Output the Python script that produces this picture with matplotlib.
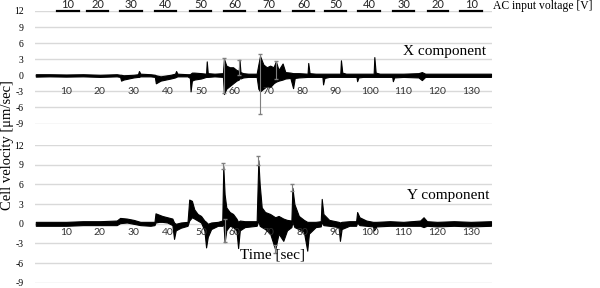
import matplotlib
matplotlib.use("Agg")
import matplotlib.pyplot as plt

# time axis labels and voltage steps
time_ticks = [10, 20, 30, 40, 50, 60, 70, 80, 90, 100, 110, 120, 130]
volt_labels = [10, 20, 30, 40, 50, 60, 70, 60, 50, 40, 30, 20, 10]
volt_start = [7.3, 16.2, 26.0, 36.4, 46.7, 56.8, 67.2, 77.3, 86.8, 96.6, 106.9, 117.3, 126.9]
volt_end = [13.8, 22.4, 32.5, 42.6, 52.9, 63.1, 73.3, 83.5, 92.9, 103.0, 113.3, 123.3, 133.3]

# X component: envelope of the trace (time, lower, upper)
x_t = [1, 5, 10, 15, 20, 25, 26, 26.3, 27, 30, 31.3, 31.6, 32, 35, 36.3, 36.6, 38, 41,
       42.3, 42.6, 43, 46, 46.7, 46.9, 47.3, 48, 50, 51.5, 51.7, 52, 54, 56.5, 56.8,
       57.5, 58.5, 59.5, 60.5, 61.2, 61.4, 61.7, 62.5, 64, 66.5, 67.0, 67.5, 68.5,
       69.5, 70.5, 71.5, 72.2, 73, 74.2, 75, 76.5, 77.3, 77.8, 79, 81.6, 81.8, 82.2,
       84, 86.0, 86.2, 86.6, 88, 91.3, 91.5, 91.9, 93, 96.1, 96.3, 96.7, 98, 101.2,
       101.4, 101.8, 103, 106.7, 106.9, 107.3, 110, 114.5, 115.5, 116.5, 120, 125,
       130, 136]
x_lo = [-0.25, -0.2, -0.25, -0.2, -0.3, -0.2, -0.3, -1.0, -0.8, -0.4, -0.3, -0.3, -0.2,
        -0.2, -0.3, -1.5, -1.0, -0.6, -0.4, -0.3, -0.2, -0.2, -0.5, -3.0, -1.0, -0.8,
        -0.6, -0.3, -0.3, -0.3, -0.2, -0.3, -3.5, -2.5, -2.0, -1.5, -1.0, -0.8, -0.5,
        -0.6, -0.4, -0.3, -0.3, -2.5, -3.0, -2.5, -2.0, -2.2, -1.5, -1.2, -1.0, -0.8,
        -0.6, -0.5, -2.4, -0.5, -0.4, -0.3, -0.3, -0.3, -0.3, -0.3, -1.7, -0.5, -0.3,
        -0.3, -0.3, -0.3, -0.3, -0.3, -1.1, -0.4, -0.3, -0.3, -0.3, -0.3, -0.3, -0.3,
        -1.1, -0.4, -0.3, -0.4, -0.9, -0.3, -0.3, -0.3, -0.3, -0.3]
x_hi = [0.2, 0.2, 0.15, 0.2, 0.1, 0.2, 0.1, 0.1, 0.0, 0.1, 0.2, 0.8, 0.3, 0.2, 0.1, 0.0,
        -0.2, 0.1, 0.3, 0.8, 0.3, 0.2, 0.2, 0.3, 0.5, 0.5, 0.4, 0.3, 2.6, 0.4, 0.3, 0.4,
        3.1, 1.8, 1.5, 1.5, 1.0, 0.8, 2.9, 0.6, 0.4, 0.3, 0.3, 2.0, 3.6, 2.0, 1.5, 1.8,
        1.5, 2.6, 1.0, 2.2, 0.6, 0.5, 0.4, 0.4, 0.4, 0.3, 2.3, 0.4, 0.3, 0.3, 0.3, 0.3,
        0.3, 0.3, 2.8, 0.5, 0.3, 0.3, 0.3, 0.3, 0.3, 0.3, 3.4, 0.5, 0.3, 0.3, 0.3, 0.3,
        0.3, 0.4, 0.6, 0.3, 0.3, 0.3, 0.3, 0.3]
x_err_t = [56.8, 61.4, 67.5, 72.2]
x_err_v = [0.0, 1.5, -1.7, 1.0]
x_err = [3.3, 1.4, 5.6, 1.6]

# Y component
y_t = [1, 5, 10, 15, 20, 25, 26, 28, 30, 32, 35, 36.2, 36.5, 37.5, 38.5, 40, 41.5, 42.0,
       42.5, 44, 46, 46.5, 47.3, 48, 49, 50, 51, 51.5, 52, 53, 55, 56.3, 56.6, 57.0,
       57.5, 58.5, 59.5, 60.5, 61.0, 61.5, 63, 66.5, 67.0, 67.4, 68.0, 69.0, 70.5, 72.0,
       73, 74.4, 75.5, 76.8, 77.1, 77.7, 79, 80.5, 81.5, 82, 84, 85.5, 85.8, 86.3, 88,
       90.8, 91.2, 91.7, 94, 96, 96.3, 97, 99, 101, 101.3, 102, 106, 110, 115, 116, 117,
       120, 125, 130, 136]
y_lo = [-0.3, -0.3, -0.3, -0.2, -0.2, -0.2, 0.1, 0.2, 0.0, -0.2, -0.3, -0.2, 0.2, 0.3,
        0.3, 0.2, -0.2, -2.3, -1.0, -0.6, -0.3, 0.5, 1.0, 0.8, 0.5, 0.2, -1.0, -3.6, -2.0,
        -0.8, -0.3, -0.3, 0.5, -2.8, -1.0, -0.3, -0.5, -1.0, -3.7, -1.0, -0.5, -0.3, 0.5,
        -0.3, -0.5, -0.8, -1.5, -3.9, -1.5, -2.6, -1.0, -0.5, 0.3, -0.5, -0.8, -1.2, -4.1,
        -1.5, -0.5, -0.4, 0.3, -0.2, -0.3, -0.5, -2.6, -0.8, -0.3, -0.3, 0.2, -0.2, -0.3,
        -0.4, -1.0, -0.4, -0.3, -0.3, -0.3, -0.5, -0.3, -0.4, -0.3, -0.4, -0.3]
y_hi = [0.3, 0.3, 0.3, 0.4, 0.4, 0.5, 0.9, 0.8, 0.6, 0.3, 0.3, 0.3, 1.6, 1.4, 1.2, 1.0,
        0.8, 0.2, 0.0, 0.2, 0.3, 3.7, 3.5, 2.2, 1.5, 1.2, 0.5, 0.3, 0.0, 0.2, 0.3, 0.5, 8.8,
        4.5, 2.5, 1.8, 1.5, 0.8, 0.3, 0.5, 0.4, 0.4, 9.7, 6.0, 2.5, 1.8, 1.5, 1.0, 1.2,
        0.8, 0.6, 0.5, 5.5, 3.0, 1.2, 0.6, 0.3, 0.3, 0.3, 0.4, 3.8, 1.5, 0.6, 0.3, 0.2,
        0.3, 0.4, 0.4, 1.8, 1.0, 0.5, 0.3, 0.3, 0.3, 0.4, 0.3, 0.5, 1.0, 0.4, 0.3, 0.4,
        0.3, 0.4]
y_err_t = [56.6, 57.2, 67.0, 72.0, 77.1]
y_err_v = [8.8, -1.0, 9.7, -3.9, 5.5]
y_err = [0.5, 1.8, 0.7, 0.6, 0.5]

serif = "Liberation Serif"
sans = "Lato"

fig = plt.figure(figsize=(6, 2.88), dpi=100)
ax1 = fig.add_axes([0.058, 0.571, 0.762, 0.391])
ax2 = fig.add_axes([0.058, 0.018, 0.762, 0.478])

panels = [
    (ax1, x_t, x_lo, x_hi, x_err_t, x_err_v, x_err, 12),
    (ax2, y_t, y_lo, y_hi, y_err_t, y_err_v, y_err, 6),
]
for ax, t, lo, hi, et, ev, ee, lab_off in panels:
    ax.set_xlim(0.7, 136.3)
    ax.set_ylim(-9, 12)
    ax.set_yticks([-9, -6, -3, 0, 3, 6, 9, 12])
    ax.set_yticklabels(["-9", "-6", "-3", "0", "3", "6", "9", "12"])
    ax.grid(axis="y", color="#d9d9d9", linewidth=1)
    ax.set_axisbelow(True)
    for s in ax.spines.values():
        s.set_visible(False)
    ax.set_xticks([])
    ax.tick_params(axis="y", length=0, pad=8, labelsize=7)
    for lbl in ax.get_yticklabels():
        lbl.set_fontfamily(serif)
    ax.fill_between(t, lo, hi, color="black", edgecolor="black", linewidth=0.8, zorder=2)
    ax.errorbar(et, ev, yerr=ee, fmt="none", ecolor="#7f7f7f", elinewidth=0.8,
                capsize=1.5, zorder=3)
    for tk in time_ticks:
        ax.annotate(str(tk), xy=(tk, 0), xytext=(0, -lab_off), textcoords="offset points",
                    ha="center", va="center", fontsize=7.5, family=sans, color="#333333",
                    zorder=4)

# voltage steps along the top
for s, e, v in zip(volt_start, volt_end, volt_labels):
    ax1.plot([s, e], [12, 12], color="black", linewidth=1.6, clip_on=False, zorder=5)
    ax1.annotate(str(v), xy=((s + e) / 2, 12), xytext=(0, 0.5), textcoords="offset points",
                 ha="center", va="bottom", fontsize=8, family=sans, color="#222222",
                 annotation_clip=False)
fig.text(0.821, 0.978, "AC input voltage [V]", family=serif, fontsize=8.4,
         ha="left", va="center")

ax1.text(0.897, 0.638, "X component", transform=ax1.transAxes, family=serif,
         fontsize=11, ha="center", va="center")
ax2.text(0.904, 0.634, "Y component", transform=ax2.transAxes, family=serif,
         fontsize=11, ha="center", va="center")
ax2.text(0.52, 0.199, "Time [sec]", transform=ax2.transAxes, family=serif,
         fontsize=11, ha="center", va="center")
fig.text(0.012, 0.497, "Cell velocity [\u03bcm/sec]", rotation=90, family=serif,
         fontsize=10.5, ha="center", va="center")

fig.savefig("out.png", dpi=100)
